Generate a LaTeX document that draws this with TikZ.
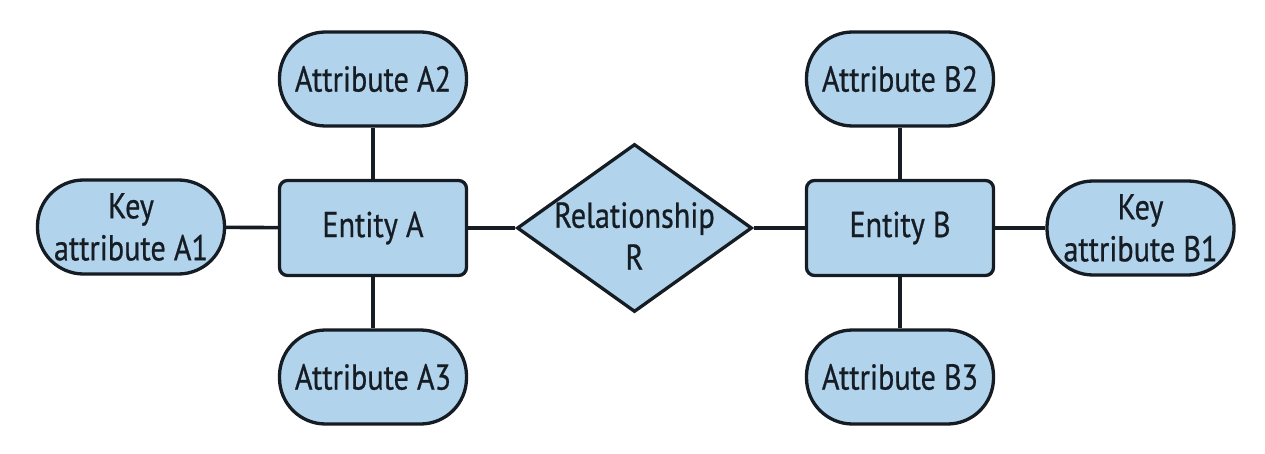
\documentclass[tikz,border=0pt]{standalone}
\usepackage{fontspec}
\setmainfont{PT Sans}[FakeStretch=0.84,FakeBold=0.6]
\usetikzlibrary{shapes.geometric}
\definecolor{boxfill}{HTML}{B1D3EB}
\definecolor{ink}{HTML}{151C24}
\tikzset{
  txt/.style={text=ink, font=\fontsize{36}{42}\selectfont, align=center, inner sep=0pt},
  base/.style={txt, draw=ink, line width=3.3pt, fill=boxfill},
  attr/.style={base, minimum width=187pt, minimum height=94pt, rounded corners=46pt, rectangle},
  entity/.style={base, minimum width=187pt, minimum height=95pt, rounded corners=8pt, rectangle},
  rel/.style={base, diamond, minimum width=235pt, minimum height=168pt, aspect=1.4},
  link/.style={draw=ink, line width=3.6pt}
}
\begin{document}
\begin{tikzpicture}[x=1pt,y=-1pt]
\useasboundingbox (0,0) rectangle (1265,454);
\node[attr] (a2) at (373,79) {Attribute A2};
\node[attr] (a1) at (131,227) {Key\\attribute A1};
\node[entity] (ea) at (373,228) {Entity A};
\node[attr] (a3) at (373,377) {Attribute A3};
\node[rel] (r) at (634.5,228) {};
\node[txt] (rt) at ([yshift=-8pt]r.center) {Relationship\\R};
\node[attr] (b2) at (900,79) {Attribute B2};
\node[entity] (eb) at (900,228) {Entity B};
\node[attr] (b1) at (1140.5,228) {Key\\attribute B1};
\node[attr] (b3) at (900,377) {Attribute B3};
\draw[link] (a2) -- (ea);
\draw[link] (ea) -- (a3);
\draw[link] (a1) -- (ea);
\draw[link] (ea) -- (r);
\draw[link] (r) -- (eb);
\draw[link] (b2) -- (eb);
\draw[link] (eb) -- (b3);
\draw[link] (eb) -- (b1);
\end{tikzpicture}
\end{document}
